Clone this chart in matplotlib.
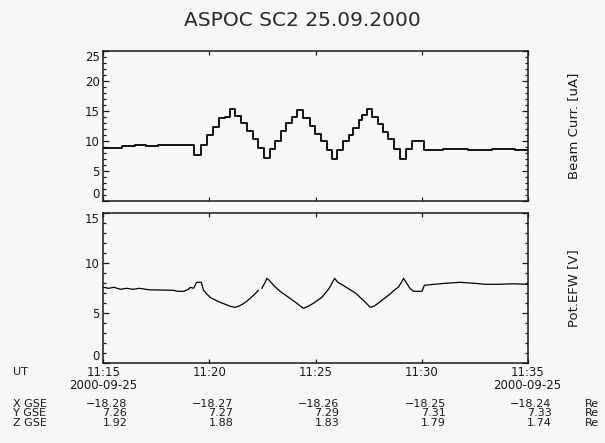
import numpy as np
import matplotlib
matplotlib.use("Agg")
import matplotlib.pyplot as plt
from matplotlib.ticker import MultipleLocator

# ---------------------------------------------------------------
# data (time in minutes after 11:15 UT, 25.09.2000)
# ---------------------------------------------------------------
beam_t = [0, 0.9, 1.5, 2.0, 2.6, 3.1, 3.6, 4.0, 4.28, 4.62, 4.87, 5.15,
          5.47, 5.74, 5.98, 6.22, 6.49, 6.77, 7.04, 7.28, 7.56, 7.87, 8.1,
          8.37, 8.62, 8.89, 9.12, 9.43, 9.72, 9.99, 10.25, 10.54, 10.77,
          11.01, 11.29, 11.56, 11.79, 12.03, 12.19, 12.42, 12.66, 12.93,
          13.18, 13.44, 13.71, 13.96, 14.28, 14.55, 15.13, 16.0, 17.2,
          18.3, 19.4, 20.0]
beam_v = [8.8, 9.1, 9.2, 9.1, 9.2, 9.3, 9.2, 9.3, 7.6, 9.3, 11.0, 12.2,
          13.7, 14.0, 15.3, 14.1, 12.9, 11.6, 10.2, 8.7, 7.1, 8.6, 10.0,
          11.6, 12.9, 13.9, 15.1, 13.7, 12.4, 11.1, 9.9, 8.5, 7.0,
          8.5, 9.9, 11.0, 12.1, 13.5, 14.3, 15.2, 14.0, 12.7,
          11.4, 10.2, 8.6, 7.0, 8.6, 10.0, 8.5, 8.6, 8.5,
          8.6, 8.5, 8.5]

pot_t = [0, 0.25, 0.5, 0.8, 1.1, 1.4, 1.7, 2.0, 2.2, 3.3, 3.5, 3.8, 4.0,
         4.1, 4.25, 4.4, 4.62, 4.72, 4.85, 5.03, 5.3, 5.5, 5.75, 5.98, 6.2,
         6.37, 6.55, 6.76, 7.08, 7.31, 7.38, 7.47, 7.6, 7.71, 7.82, 8.02,
         8.33, 8.73, 9.12, 9.3, 9.43, 9.65, 9.9, 10.3, 10.61, 10.75, 10.9,
         11.05, 11.3, 11.6, 11.9, 12.15, 12.4, 12.58, 12.75, 12.95, 13.25,
         13.5, 13.7, 13.9, 14.05, 14.15, 14.3, 14.45, 14.62, 15.02, 15.13,
         15.6, 16.1, 16.8, 17.5, 18.0, 18.6, 19.3, 20.0]
pot_v = [7.6, 7.5, 7.6, 7.4, 7.5, 7.4, 7.5, 7.4, 7.35, 7.3, 7.2, 7.2, 7.4,
         7.6, 7.5, 8.1, 8.1, 7.3, 7.0, 6.6, 6.3, 6.1, 5.9, 5.7, 5.6,
         5.7, 5.9, 6.2, 6.8, 7.3, np.nan, 7.5, 8.0, 8.5, 8.3, 7.8,
         7.2, 6.6, 6.0, 5.7, 5.5, 5.7, 6.0, 6.6, 7.4, 7.9, 8.5,
         8.1, 7.8, 7.4, 7.0, 6.5, 6.0, 5.6, 5.7, 6.0, 6.5,
         6.9, 7.3, 7.6, 8.1, 8.5, 8.0, 7.5, 7.2, 7.2, 7.8,
         7.9, 8.0, 8.1, 8.0, 7.9, 7.9, 7.95, 7.9]

tick_min = [0, 5, 10, 15, 20]
tick_labels = ["11:15", "11:20", "11:25", "11:30", "11:35"]
date_label = "2000-09-25"
beam_ticks = [0, 5, 10, 15, 20, 25]
pot_ticks = [0, 5, 10, 15]

x_gse = ["\u221218.28", "\u221218.27", "\u221218.26", "\u221218.25", "\u221218.24"]
y_gse = ["7.26", "7.27", "7.29", "7.31", "7.33"]
z_gse = ["1.92", "1.88", "1.83", "1.79", "1.74"]

# ---------------------------------------------------------------
# plot
# ---------------------------------------------------------------
bg = "#f7f7f7"
ink = "#1a1a1a"
plt.rcParams["font.family"] = "DejaVu Sans"

fig = plt.figure(figsize=(6.05, 4.43), dpi=100, facecolor=bg)
ax1 = fig.add_axes([0.1708, 0.5470, 0.7014, 0.3386], facecolor=bg)
ax2 = fig.add_axes([0.1708, 0.1799, 0.7014, 0.3386], facecolor=bg)

ax1.step(beam_t, beam_v, where="post", color="black", lw=1.3)
ax2.plot(pot_t, pot_v, color="black", lw=0.9)

ax1.set_ylim(0, 25)
ax2.set_ylim(0, 15)
ax1.set_yticks(beam_ticks)
ax2.set_yticks(pot_ticks)

for ax in (ax1, ax2):
    ax.set_xlim(0, 20)
    ax.set_xticks(tick_min)
    ax.yaxis.set_minor_locator(MultipleLocator(1))
    ax.tick_params(axis="y", which="both", direction="in", left=True, right=True,
                   labelsize=8.5, pad=2.5, colors=ink)
    ax.tick_params(axis="y", which="major", length=4, width=0.9)
    ax.tick_params(axis="y", which="minor", length=2.4, width=0.9)
    ax.tick_params(axis="x", which="major", direction="in", top=True, bottom=True,
                   length=3, width=0.9, labelsize=8.5, pad=2.0, colors=ink)
    for s in ax.spines.values():
        s.set_linewidth(1.1)
        s.set_color(ink)
    # keep end labels inside the axis range, like the original IDL plot
    labs = ax.get_yticklabels()
    labs[0].set_verticalalignment("bottom")
    labs[-1].set_verticalalignment("top")

ax1.set_xticklabels([])
ax2.set_xticklabels(tick_labels)

ax1.yaxis.set_label_position("right")
ax1.set_ylabel("Beam Curr. [uA]", fontsize=9.5, color=ink, labelpad=28)
ax2.yaxis.set_label_position("right")
ax2.set_ylabel("Pot.EFW [V]", fontsize=9.5, color=ink, labelpad=28)

fig.text(0.5, 1 - 20 / 443, "ASPOC SC2 25.09.2000", ha="center", va="center",
         fontsize=14.5, color="#2a2a2a")

# date under first and last tick
xt = ax2.get_xaxis_transform()
for t in (tick_min[0], tick_min[-1]):
    ax2.text(t, -0.145, date_label, transform=xt, ha="center", va="center",
             fontsize=8.5, color=ink)

# orbit position rows
fs = 8
fig.text(13 / 605, 1 - 372 / 443, "UT", ha="left", va="center", fontsize=fs, color=ink)
rows = [("X GSE", x_gse, 404), ("Y GSE", y_gse, 413.3), ("Z GSE", z_gse, 422.6)]
for name, vals, ypix in rows:
    yf = 1 - ypix / 443
    fig.text(13 / 605, yf, name, ha="left", va="center", fontsize=fs, color=ink)
    fig.text(585 / 605, yf, "Re", ha="left", va="center", fontsize=fs, color=ink)
    for t, s in zip(tick_min, vals):
        ax2.annotate(s, xy=(t, yf), xycoords=("data", "figure fraction"),
                     xytext=(24, 0), textcoords="offset pixels",
                     ha="right", va="center", fontsize=fs, color=ink,
                     annotation_clip=False)

fig.savefig("out.png", dpi=100, facecolor=bg)
